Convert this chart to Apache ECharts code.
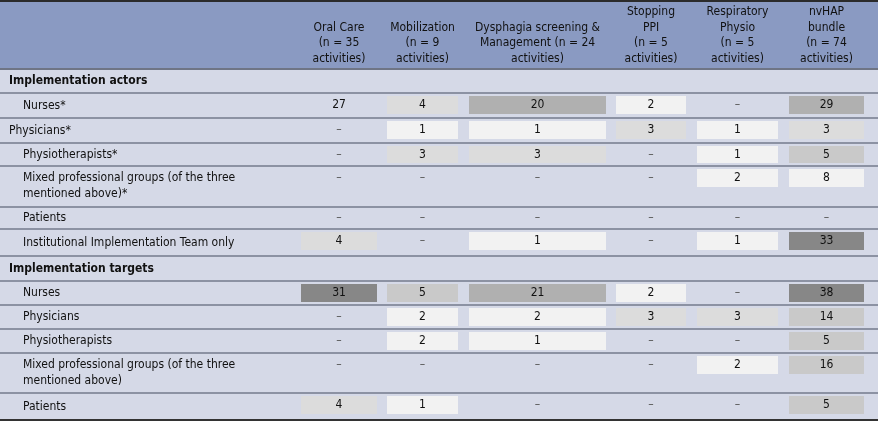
<!DOCTYPE html>
<html><head><meta charset="utf-8">
<script src="https://cdn.jsdelivr.net/npm/echarts@6/dist/echarts.min.js"></script>
<style>html,body{margin:0;padding:0;background:#fff}#c{width:878px;height:421px}</style>
</head><body><div id="c"></div>
<script>
// ---- data ----
const columns = ['Oral Care\n(n = 35\nactivities)','Mobilization\n(n = 9\nactivities)','Dysphagia screening &\nManagement (n = 24\nactivities)','Stopping\nPPI\n(n = 5\nactivities)','Respiratory\nPhysio\n(n = 5\nactivities)','nvHAP\nbundle\n(n = 74\nactivities)'];
const rowLabels = ['Implementation actors','Nurses*','Physicians*','Physiotherapists*','Mixed professional groups (of the three\nmentioned above)*','Patients','Institutional Implementation Team only','Implementation targets','Nurses','Physicians','Physiotherapists','Mixed professional groups (of the three\nmentioned above)','Patients'];
const sectionRows = [0,7];
const values = [
  null,
  [27,4,20,2,null,29],
  [null,1,1,3,1,3],
  [null,3,3,null,1,5],
  [null,null,null,null,2,8],
  [null,null,null,null,null,null],
  [4,null,1,null,1,33],
  null,
  [31,5,21,2,null,38],
  [null,2,2,3,3,14],
  [null,2,1,null,null,5],
  [null,null,null,null,2,16],
  [4,1,null,null,null,5]
];
const shade = [
  null,
  [0,2,4,1,0,4],
  [0,1,1,2,1,2],
  [0,2,2,0,1,3],
  [0,0,0,0,1,1],
  [0,0,0,0,0,0],
  [2,0,1,0,1,5],
  null,
  [5,3,4,1,0,5],
  [0,1,1,2,2,3],
  [0,1,1,0,0,3],
  [0,0,0,0,1,3],
  [2,1,0,0,0,3]
];
// ---- layout ----
const shadeColors = ['rgba(0,0,0,0)','#f2f2f2','#dcdcdc','#c9c9c9','#b0b0b0','#878787'];
const colL = [301,387,469,616,697,789], colR = [377,458,606,686,778,864];
const rowEdges = [69,93,118,143,166,207,229,256,281,305,329,353,393,420];
const indentRows = [1,3,4,5,6,8,9,10,11,12];
const FONT = "'DejaVu Sans Condensed','Liberation Sans Narrow',sans-serif";
const FS = '12px ';

const rowData = rowLabels.map((l,i)=>[i]);
const cellData = [];
values.forEach((r,ri)=>{ if(!r) return; r.forEach((v,ci)=>cellData.push([ci,ri,v,shade[ri][ci]])); });

const chart = echarts.init(document.getElementById('c'));
chart.setOption({
  animation:false,
  grid:{left:0,right:0,top:0,bottom:0},
  xAxis:{type:'value',min:0,max:878,show:false},
  yAxis:{type:'value',min:0,max:421,inverse:true,show:false},
  series:[
    {type:'custom',silent:true,data:[[0]],renderItem:(p,api)=>{
      const a=api.coord([0,0]), b=api.coord([878,69]);
      const ch = [
        {type:'rect',shape:{x:a[0],y:a[1],width:b[0]-a[0],height:b[1]-a[1]},style:{fill:'#8a9ac2'}},
        {type:'rect',shape:{x:a[0],y:a[1],width:b[0]-a[0],height:2},style:{fill:'#2b2b2b'}},
        {type:'rect',shape:{x:a[0],y:b[1]-1,width:b[0]-a[0],height:2},style:{fill:'#6f7585'}}
      ];
      columns.forEach((c,i)=>{
        const lines=c.split('\n'); const cx=(colL[i]+colR[i])/2;
        lines.forEach((t,k)=>{
          const pt=api.coord([cx, 66-(lines.length-k)*15.5+8]);
          ch.push({type:'text',style:{text:t,x:pt[0],y:pt[1],align:'center',verticalAlign:'middle',font:FS+FONT,fill:'#111'}});
        });
      });
      return {type:'group',children:ch};
    }},
    {type:'custom',silent:true,data:rowData,renderItem:(p,api)=>{
      const i=api.value(0);
      const a=api.coord([0,rowEdges[i]]), b=api.coord([878,rowEdges[i+1]]);
      const sec=sectionRows.includes(i);
      const x=api.coord([indentRows.includes(i)?23:9,0])[0];
      const lines=rowLabels[i].split('\n');
      const mid=(a[1]+b[1])/2;
      const ch=[
        {type:'rect',shape:{x:a[0],y:a[1]+1,width:b[0]-a[0],height:b[1]-a[1]-1},style:{fill:'#d5d9e7'}},
        {type:'rect',shape:{x:a[0],y:b[1]-1,width:b[0]-a[0],height:2},style:{fill:i===12?'#333':'#8c92a3'}}
      ];
      lines.forEach((t,k)=>{
        const y = lines.length>1 ? a[1]+12+k*15.5 : mid;
        ch.push({type:'text',style:{text:t,x:x,y:y,verticalAlign:'middle',font:(sec?'600 ':'')+FS+FONT,fill:'#111'}});
      });
      return {type:'group',children:ch};
    }},
    {type:'custom',silent:true,data:cellData,renderItem:(p,api)=>{
      const d=cellData[p.dataIndex];
      const ci=d[0], ri=d[1], v=d[2], lv=d[3];
      const a=api.coord([colL[ci],rowEdges[ri]+3]);
      const b=api.coord([colR[ci],Math.min(rowEdges[ri+1],rowEdges[ri]+24)-3]);
      const yTop=a[1], h=b[1]-a[1];
      return {type:'group',children:[
        {type:'rect',shape:{x:a[0],y:yTop,width:b[0]-a[0],height:h},style:{fill:shadeColors[lv]}},
        {type:'text',style:{text:v==null?'–':String(v),x:(a[0]+b[0])/2,y:yTop+h/2,align:'center',verticalAlign:'middle',font:FS+FONT,fill:v==null?'#555':'#111'}}
      ]};
    }}
  ]
});
</script></body></html>
